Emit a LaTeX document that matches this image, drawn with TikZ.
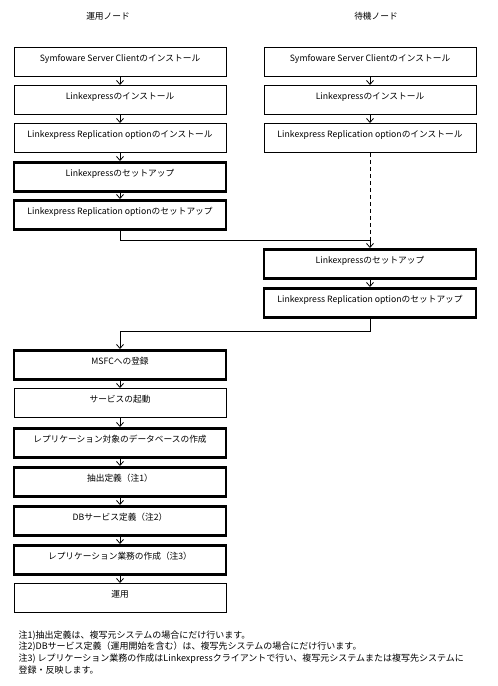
\documentclass[tikz,border=0pt]{standalone}
\usepackage{fontspec}
\setmainfont{Noto Sans CJK JP}
\usetikzlibrary{arrows.meta}
\begin{document}
\begin{tikzpicture}[x=1pt,y=-1pt,
  proc/.style={draw, line width=0.9pt, minimum width=212pt, inner sep=0pt, text height=14.5pt, text depth=14.5pt, anchor=north},
  procbold/.style={proc, line width=2.5pt},
  flow/.style={-{Straight Barb[length=4pt,width=7pt]}, line width=0.8pt}]
\tikzstyle{every node}=[font=\fontsize{8.7}{10}\selectfont]
\useasboundingbox (0,0) rectangle (498,686);
\node (headact) at (108,16) {運用ノード};
\node (headstb) at (376,16) {待機ノード};
%%%%%%%%%%%%%
\node[proc] (act1) at (120,47) {Symfoware Server Clientのインストール};
\node[proc] (act2) at (120,85) {Linkexpressのインストール};
\node[proc] (act3) at (120,123) {Linkexpress Replication optionのインストール};
\node[procbold] (act4) at (120,161) {Linkexpressのセットアップ};
\node[procbold] (act5) at (120,199) {Linkexpress Replication optionのセットアップ};
%%%%%%%%%%%%%
\node[proc] (stb1) at (370,47) {Symfoware Server Clientのインストール};
\node[proc] (stb2) at (370,85) {Linkexpressのインストール};
\node[proc] (stb3) at (370,123) {Linkexpress Replication optionのインストール};
\node[procbold] (stb4) at (370,248) {Linkexpressのセットアップ};
\node[procbold] (stb5) at (370,287) {Linkexpress Replication optionのセットアップ};
%%%%%%%%%%%%%
\node[procbold] (ops1) at (120,349) {MSFCへの登録};
\node[proc] (ops2) at (120,388) {サービスの起動};
\node[procbold] (ops3) at (120,427) {レプリケーション対象のデータベースの作成};
\node[procbold] (ops4) at (120,466) {抽出定義（注1）};
\node[procbold] (ops5) at (120,505) {DBサービス定義（注2）};
\node[procbold] (ops6) at (120,544) {レプリケーション業務の作成（注3）};
\node[proc] (ops7) at (120,583) {運用};
%%%%%%%%%%%%%
\draw[flow] (act1) -- (act2);
\draw[flow] (act2) -- (act3);
\draw[flow] (act3) -- (act4);
\draw[flow] (act4) -- (act5);
\draw[flow] (stb1) -- (stb2);
\draw[flow] (stb2) -- (stb3);
\draw[flow] (stb4) -- (stb5);
\draw[flow] (ops1) -- (ops2);
\draw[flow] (ops2) -- (ops3);
\draw[flow] (ops3) -- (ops4);
\draw[flow] (ops4) -- (ops5);
\draw[flow] (ops5) -- (ops6);
\draw[flow] (ops6) -- (ops7);
%%%%%%%%%%%%%
\coordinate (joinact) at (120,240);
\coordinate (joinstb) at (370,240);
\coordinate (joinops) at (370,331);
\draw[flow] (act5.south) -- (joinact) -| (stb4.north);
\draw[line width=0.8pt, dash pattern=on 4pt off 3pt] (stb3.south) -- (joinstb);
\draw[flow] (stb5.south) -- (joinops) -| (ops1.north);
%%%%%%%%%%%%%
\node[anchor=north west, align=left, font=\fontsize{9}{11.7}\selectfont] (notes) at (15,627) {注1)抽出定義は、複写元システムの場合にだけ行います。\\
注2)DBサービス定義（運用開始を含む）は、複写先システムの場合にだけ行います。\\
注3) レプリケーション業務の作成はLinkexpressクライアントで行い、複写元システムまたは複写先システムに\\
登録・反映します。};
\end{tikzpicture}
\end{document}
